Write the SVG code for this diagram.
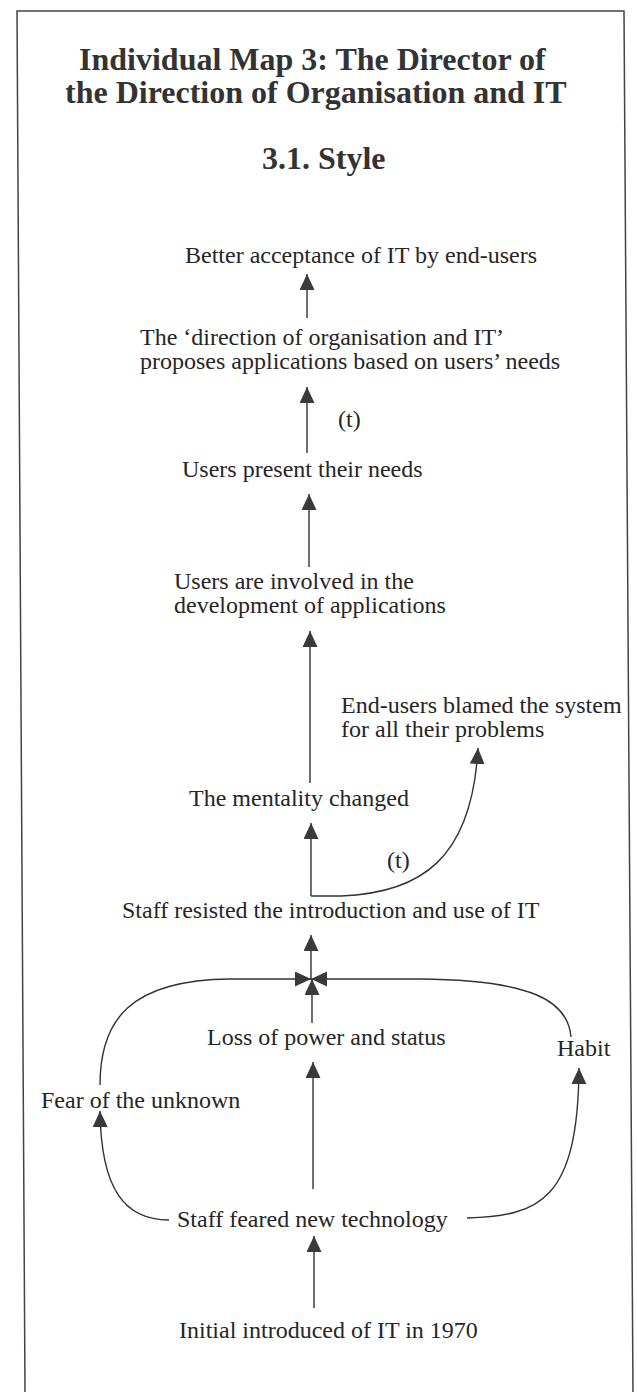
<svg xmlns="http://www.w3.org/2000/svg" width="637" height="1392" viewBox="0 0 637 1392">
<defs>
<marker id="ah" markerUnits="userSpaceOnUse" markerWidth="17" markerHeight="16" refX="16" refY="7.5" orient="auto">
<path d="M0,0 L16,7.5 L0,15 z" fill="#3a3a3a"/>
</marker>
<style>
.t{font-family:"Liberation Serif","Times New Roman",serif;font-size:24px;fill:#262626}
.h{font-family:"Liberation Serif","Times New Roman",serif;font-weight:bold;font-size:32px;fill:#333}
.a{fill:none;stroke:#333;stroke-width:1.4;marker-end:url(#ah)}
</style>
</defs>
<rect width="637" height="1392" fill="#fff"/>
<path d="M25,1392 L17,11 L624,11 L633,1392" fill="none" stroke="#444" stroke-width="1.5"/>
<g id="title">
<text class="h" x="79" y="70">Individual Map 3: The Director of</text>
<text class="h" x="65" y="103">the Direction of Organisation and IT</text>
<text class="h" x="262" y="169">3.1. Style</text>
</g>
<g id="n1"><text class="t" x="185" y="263">Better acceptance of IT by end-users</text></g>
<g id="n2"><text class="t" x="140" y="345">The ‘direction of organisation and IT’</text><text class="t" x="140" y="369">proposes applications based on users’ needs</text></g>
<g id="n3"><text class="t" x="182" y="477">Users present their needs</text></g>
<g id="n4"><text class="t" x="174" y="589">Users are involved in the</text><text class="t" x="174" y="613">development of applications</text></g>
<g id="n5"><text class="t" x="341" y="713">End-users blamed the system</text><text class="t" x="341" y="737">for all their problems</text></g>
<g id="n6"><text class="t" x="189" y="806">The mentality changed</text></g>
<g id="n7"><text class="t" x="122" y="918">Staff resisted the introduction and use of IT</text></g>
<g id="n8"><text class="t" x="207" y="1045">Loss of power and status</text></g>
<g id="n9"><text class="t" x="557" y="1056">Habit</text></g>
<g id="n10"><text class="t" x="41" y="1108">Fear of the unknown</text></g>
<g id="n11"><text class="t" x="177" y="1227">Staff feared new technology</text></g>
<g id="n12"><text class="t" x="179" y="1338">Initial introduced of IT in 1970</text></g>
<g id="connectors">
<path class="a" d="M307,318 L307,274"/>
<path class="a" d="M307,453 L307,387"/>
<text class="t" x="338" y="427">(t)</text>
<path class="a" d="M309,567 L309,494"/>
<path class="a" d="M310,783 L310,631"/>
<path class="a" d="M311,896 L311,823"/>
<path class="a" d="M311,896 L341,896 C420,893 472,860 478,748"/>
<text class="t" x="387" y="868">(t)</text>
<path class="a" d="M311,979 L311,935"/>
<path class="a" d="M100,1085 C100,1020 130,980 230,979 L311,979"/>
<path class="a" d="M571,1037 C568,1000 530,980 420,979 L311,979"/>
<path class="a" d="M312,1023 L312,979"/>
<path class="a" d="M313,1189 L313,1062"/>
<path class="a" d="M169,1220 C125,1220 101,1190 100,1111"/>
<path class="a" d="M467,1218 C540,1216 578,1200 579,1068"/>
<path class="a" d="M314,1308 L314,1236"/>
</g>
</svg>
